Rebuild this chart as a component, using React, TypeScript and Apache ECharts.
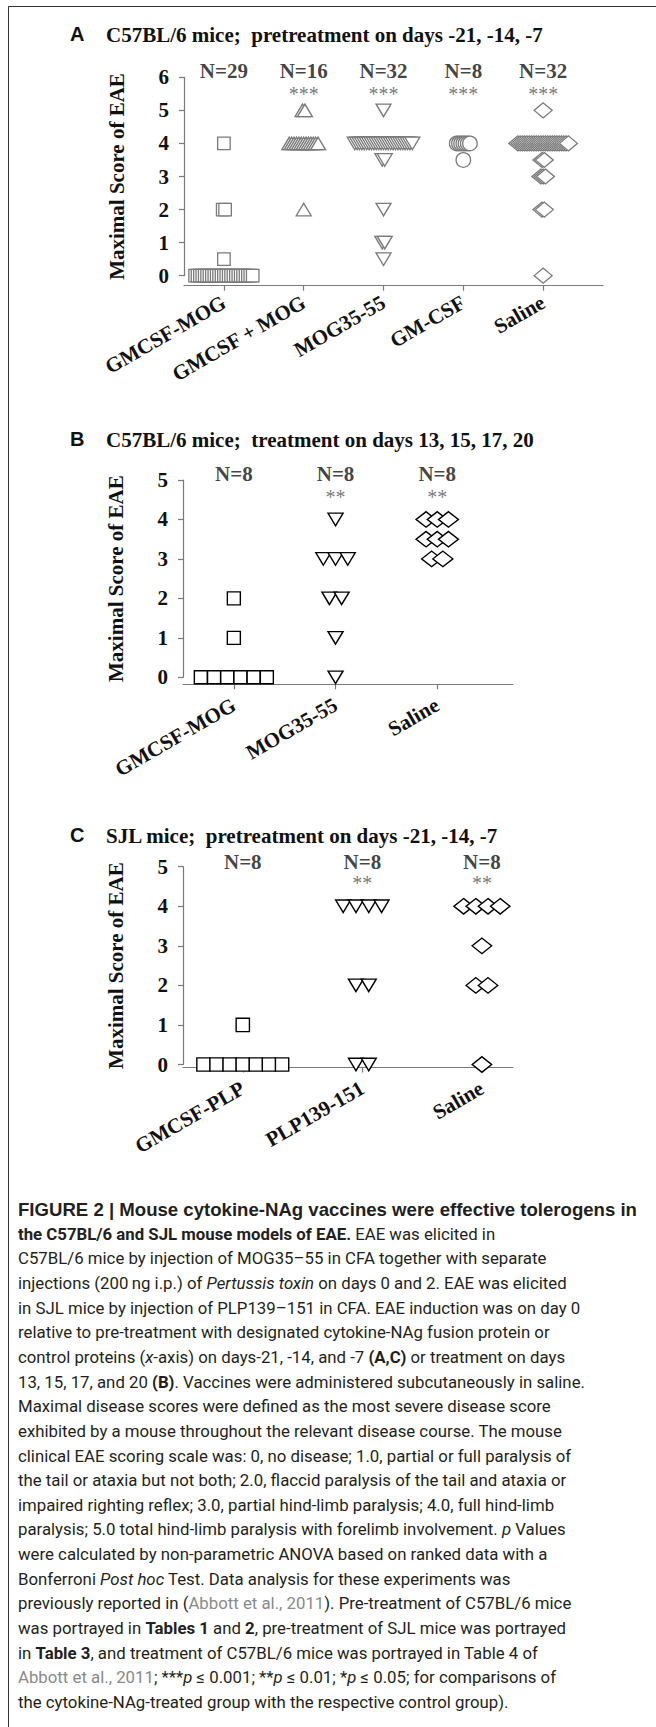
import React, { useEffect, useRef } from 'react';
import * as echarts from 'echarts';

// ---------- data ----------
const catsA = ['GMCSF-MOG', 'GMCSF + MOG', 'MOG35-55', 'GM-CSF', 'Saline'];
const nLabelsA = ['N=29', 'N=16', 'N=32', 'N=8', 'N=32'];
const starsA = ['', '***', '***', '***', '***'];
const aGmcsfMog = [0, 0, 0, 0, 0, 0, 0, 0, 0, 0, 0, 0, 0, 0, 0, 0, 0, 0, 0, 0, 0, 0, 0, 0, 0, 0.5, 2, 2, 4];
const aGmcsfPlusMog = [2, 4, 4, 4, 4, 4, 4, 4, 4, 4, 4, 4, 4, 4, 5, 5];
const aMog = [0.5, 1, 1, 2, 3.5, 3.5, 4, 4, 4, 4, 4, 4, 4, 4, 4, 4, 4, 4, 4, 4, 4, 4, 4, 4, 4, 4, 4, 4, 4, 4, 4, 5];
const aGmcsf = [3.5, 4, 4, 4, 4, 4, 4, 4];
const aSaline = [0, 2, 2, 3, 3, 3, 3.5, 3.5, 4, 4, 4, 4, 4, 4, 4, 4, 4, 4, 4, 4, 4, 4, 4, 4, 4, 4, 4, 4, 4, 4, 4, 5];

const catsB = ['GMCSF-MOG', 'MOG35-55', 'Saline'];
const nLabelsB = ['N=8', 'N=8', 'N=8'];
const starsB = ['', '**', '**'];
const bGmcsfMog = [0, 0, 0, 0, 0, 0, 1, 2];
const bMog = [0, 1, 2, 2, 3, 3, 3, 4];
const bSaline = [3, 3, 3.5, 3.5, 3.5, 4, 4, 4];

const catsC = ['GMCSF-PLP', 'PLP139-151', 'Saline'];
const nLabelsC = ['N=8', 'N=8', 'N=8'];
const starsC = ['', '**', '**'];
const cGmcsfPlp = [0, 0, 0, 0, 0, 0, 0, 1];
const cPlp = [0, 0, 2, 2, 4, 4, 4, 4];
const cSaline = [0, 2, 2, 3, 4, 4, 4, 4];

const yTicksA = 6;
const yTicksBC = 5;

const titles = [
  'C57BL/6 mice;  pretreatment on days -21, -14, -7',
  'C57BL/6 mice;  treatment on days 13, 15, 17, 20',
  'SJL mice;  pretreatment on days -21, -14, -7',
];
const panelLetters = ['A', 'B', 'C'];

const captionLines = [
  '{h|FIGURE 2 | Mouse cytokine-NAg vaccines were effective tolerogens in}',
  '{b|the C57BL/6 and SJL mouse models of EAE.} EAE was elicited in',
  'C57BL/6 mice by injection of MOG35–55 in CFA together with separate',
  'injections (200\u2009ng i.p.) of {i|Pertussis toxin} on days 0 and 2. EAE was elicited',
  'in SJL mice by injection of PLP139–151 in CFA. EAE induction was on day 0',
  'relative to pre-treatment with designated cytokine-NAg fusion protein or',
  'control proteins ({i|x}-axis) on days-21, -14, and -7 {b|(A,C)} or treatment on days',
  '13, 15, 17, and 20 {b|(B)}. Vaccines were administered subcutaneously in saline.',
  'Maximal disease scores were defined as the most severe disease score',
  'exhibited by a mouse throughout the relevant disease course. The mouse',
  'clinical EAE scoring scale was: 0, no disease; 1.0, partial or full paralysis of',
  'the tail or ataxia but not both; 2.0, flaccid paralysis of the tail and ataxia or',
  'impaired righting reflex; 3.0, partial hind-limb paralysis; 4.0, full hind-limb',
  'paralysis; 5.0 total hind-limb paralysis with forelimb involvement. {i|p} Values',
  'were calculated by non-parametric ANOVA based on ranked data with a',
  'Bonferroni {i|Post hoc} Test. Data analysis for these experiments was',
  'previously reported in ({g|Abbott et al., 2011}). Pre-treatment of C57BL/6 mice',
  'was portrayed in {b|Tables 1} and {b|2}, pre-treatment of SJL mice was portrayed',
  'in {b|Table 3}, and treatment of C57BL/6 mice was portrayed in Table 4 of',
  '{g|Abbott et al., 2011}; ***{i|p} \u2264 0.001; **{i|p} \u2264 0.01; *{i|p} \u2264 0.05; for comparisons of',
  'the cytokine-NAg-treated group with the respective control group).',
];

// ---------- styles / layout ----------
const SERIF = "'Liberation Serif', 'Times New Roman', serif";
const SANS = "'Liberation Sans', Arial, sans-serif";
const CAP = "Roboto, 'Liberation Sans', sans-serif";
const AXIS_COLOR = '#7a7a7a';
const TEXT = '#111';

type Marker = { symbol: string; size: number | number[]; rotate: number; step: number };

const panels = [
  {
    cats: catsA, nLabels: nLabelsA, stars: starsA, groups: [aGmcsfMog, aGmcsfPlusMog, aMog, aGmcsf, aSaline],
    grid: { left: 184, top: 77.3, width: 419, height: 198.4 }, xMax: 4.75, yMax: yTicksA, xOffset: 10, labelMargin: 15,
    nY: 6.2, starsY: 5.5, color: '#7a7a7a', lw: 1.3, titleY: 34,
    markers: [
      { symbol: 'rect', size: [12.5, 12.5], rotate: 0, step: 2.4 },
      { symbol: 'triangle', size: [15, 12.5], rotate: 0, step: 2.4 },
      { symbol: 'triangle', size: [15, 12.5], rotate: 180, step: 2.4 },
      { symbol: 'circle', size: 14.5, rotate: 0, step: 2.2 },
      { symbol: 'diamond', size: [18, 15], rotate: 0, step: 2.3 },
    ] as Marker[],
  },
  {
    cats: catsB, nLabels: nLabelsB, stars: starsB, groups: [bGmcsfMog, bMog, bSaline],
    grid: { left: 183, top: 480, width: 330, height: 197.3 }, xMax: 2.745, yMax: yTicksBC, xOffset: 7, labelMargin: 19,
    nY: 5.15, starsY: 4.57, color: '#000', lw: 1.4, titleY: 439,
    markers: [
      { symbol: 'rect', size: [13, 13], rotate: 0, step: 13.2 },
      { symbol: 'triangle', size: [15, 12.5], rotate: 180, step: 12.2 },
      { symbol: 'diamond', size: [20, 15.5], rotate: 0, step: 11.2 },
    ] as Marker[],
  },
  {
    cats: catsC, nLabels: nLabelsC, stars: starsC, groups: [cGmcsfPlp, cPlp, cSaline],
    grid: { left: 183, top: 866.7, width: 330, height: 197.8 }, xMax: 2.26, yMax: yTicksBC, xOffset: 3, labelMargin: 19,
    nY: 5.12, starsY: 4.58, color: '#000', lw: 1.4, titleY: 835,
    markers: [
      { symbol: 'rect', size: [13.3, 13.3], rotate: 0, step: 13.1 },
      { symbol: 'triangle', size: [15, 12.5], rotate: 180, step: 12.8 },
      { symbol: 'diamond', size: [19.5, 15.5], rotate: 0, step: 12.2 },
    ] as Marker[],
  },
];

function buildItems(scores: number[], catIdx: number, stepPx: number) {
  const counts: Record<string, number> = {};
  scores.forEach((s) => { counts[s] = (counts[s] || 0) + 1; });
  const seen: Record<string, number> = {};
  return scores.map((s) => {
    const n = counts[s];
    const k = (seen[s] = seen[s] === undefined ? 0 : seen[s] + 1);
    return { value: [catIdx, s], symbolOffset: [(k - (n - 1) / 2) * stepPx, 0] };
  });
}

function buildOption() {
  const grid: any[] = [];
  const xAxis: any[] = [];
  const yAxis: any[] = [];
  const series: any[] = [];
  const graphics: any[] = [];

  panels.forEach((p, pi) => {
    grid.push({ ...p.grid, containLabel: false });
    const idx = p.cats.map((_, i) => i);
    xAxis.push({
      type: 'value', gridIndex: pi, min: -0.5, max: p.xMax, offset: p.xOffset,
      axisLine: { show: true, onZero: false, lineStyle: { color: AXIS_COLOR, width: 1.2 } },
      axisTick: { show: true, customValues: idx, length: 5, lineStyle: { color: AXIS_COLOR, width: 1.2 } },
      axisLabel: {
        show: true, customValues: idx, rotate: 30, margin: p.labelMargin,
        formatter: (v: number) => p.cats[Math.round(v)] ?? '',
        fontFamily: SERIF, fontSize: 21, fontWeight: 'bold', color: TEXT,
      },
      splitLine: { show: false },
    });
    yAxis.push({
      type: 'value', gridIndex: pi, min: 0, max: p.yMax, interval: 1,
      name: 'Maximal Score of EAE', nameLocation: 'middle', nameGap: 57, nameRotate: 90,
      nameTextStyle: { fontFamily: SERIF, fontSize: 21, fontWeight: 'bold', color: TEXT },
      axisLine: { show: true, onZero: false, lineStyle: { color: AXIS_COLOR, width: 1.2 } },
      axisTick: { show: true, length: 5, lineStyle: { color: AXIS_COLOR, width: 1.2 } },
      axisLabel: { margin: 15, fontFamily: SERIF, fontSize: 21, fontWeight: 'bold', color: TEXT },
      splitLine: { show: false },
    });
    p.groups.forEach((scores, gi) => {
      const m = p.markers[gi];
      series.push({
        type: 'scatter', xAxisIndex: pi, yAxisIndex: pi, clip: false, silent: true,
        symbol: m.symbol, symbolSize: m.size, symbolRotate: m.rotate,
        itemStyle: { color: '#ffffff', borderColor: p.color, borderWidth: p.lw, opacity: 1 },
        data: buildItems(scores, gi, m.step),
        z: 3,
      });
    });
    series.push({
      type: 'scatter', xAxisIndex: pi, yAxisIndex: pi, clip: false, silent: true,
      symbolSize: 1, itemStyle: { color: 'rgba(0,0,0,0)' },
      label: { show: true, position: 'inside', fontFamily: SERIF, fontSize: 21, fontWeight: 'bold', color: TEXT },
      data: p.nLabels.map((t, i) => ({ value: [i, p.nY], label: { formatter: t } })),
      z: 4,
    });
    series.push({
      type: 'scatter', xAxisIndex: pi, yAxisIndex: pi, clip: false, silent: true,
      symbolSize: 1, itemStyle: { color: 'rgba(0,0,0,0)' },
      label: { show: true, position: 'inside', fontFamily: SERIF, fontSize: 20, color: '#555' },
      data: p.stars.map((t, i) => ({ value: [i, p.starsY], label: { formatter: t } })),
      z: 4,
    });
    graphics.push({
      type: 'text', x: 70, y: p.titleY,
      style: { text: panelLetters[pi], fontFamily: SANS, fontSize: 20, fontWeight: 'bold', fill: TEXT, verticalAlign: 'middle', align: 'left' },
    });
    graphics.push({
      type: 'text', x: 106, y: p.titleY + 1,
      style: { text: titles[pi], fontFamily: SERIF, fontSize: 21, fontWeight: 'bold', fill: TEXT, verticalAlign: 'middle', align: 'left' },
    });
  });

  // frame
  graphics.push({ type: 'line', shape: { x1: 8.5, y1: 6.5, x2: 656, y2: 6.5 }, style: { stroke: '#333', lineWidth: 1 } });
  graphics.push({ type: 'line', shape: { x1: 8.5, y1: 6.5, x2: 8.5, y2: 1727 }, style: { stroke: '#333', lineWidth: 1 } });

  // caption
  const capSize = 16.8;
  const base = { fontFamily: CAP, fontSize: capSize, fill: '#231f20', lineHeight: 20 };
  captionLines.forEach((line, i) => {
    graphics.push({
      type: 'text', x: 18, y: 1209 + i * 24.65,
      style: {
        text: line, ...base, verticalAlign: 'middle', align: 'left',
        rich: {
          h: { ...base, fontFamily: SANS, fontSize: 18.6, fontWeight: 'bold' },
          b: { ...base, fontWeight: 'bold' },
          i: { ...base, fontStyle: 'italic' },
          g: { ...base, fill: '#8a8a8a' },
        },
      },
    });
  });

  return { animation: false, backgroundColor: '#ffffff', grid, xAxis, yAxis, series, graphic: { elements: graphics } };
}

export default function App() {
  const ref = useRef<HTMLDivElement>(null);
  useEffect(() => {
    document.body.style.margin = '0';
    const chart = echarts.init(ref.current as HTMLDivElement, null, { renderer: 'svg', width: 656, height: 1727 });
    chart.setOption(buildOption() as any);
    return () => chart.dispose();
  }, []);
  return <div ref={ref} style={{ position: 'absolute', left: 0, top: 0, width: 656, height: 1727, background: '#fff' }} />;
}
